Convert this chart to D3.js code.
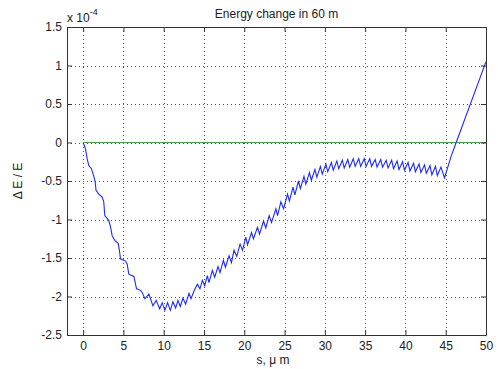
<!DOCTYPE html>
<html>
<head>
<meta charset="utf-8">
<script src="https://cdn.jsdelivr.net/npm/d3@7"></script>
<style>
  body { margin: 0; background: #fff; }
  svg { display: block; font-family: "Liberation Sans", Arial, sans-serif; }
</style>
</head>
<body>
<div id="chart"></div>
<script>
// s in micrometres, dE/E in units of 1e-4
const sValues = [
  0, 0.29, 0.5, 0.7, 1.03, 1.3, 1.5, 1.6, 1.94, 2.36, 2.56, 2.69, 3.18, 3.41, 3.6, 3.93, 4.35, 4.5, 4.64,
  5.26, 5.47, 5.67, 6.3, 6.63, 7.13, 7.34, 7.67, 8.16, 8.66, 9.07, 9.49, 9.82, 10.15, 10.48, 10.82,
  11.15, 11.48, 11.77, 12.06, 12.39, 12.72, 13.14, 13.39, 13.8, 14.18, 14.5, 14.8, 15.09, 15.42, 15.62,
  16.04, 16.33, 16.74, 16.99, 17.41, 17.66, 18.11, 18.41, 18.73, 19.07, 19.48, 19.78, 20.19, 20.4,
  20.9, 21.14, 21.64, 21.89, 22.39, 22.67, 23.09, 23.38, 23.92, 24.13, 24.54, 24.88, 25.37, 25.6,
  26.05, 26.28, 26.73, 26.96, 27.41, 27.64, 28.09, 28.32, 28.77, 29.0, 29.45, 29.68, 30.13, 30.36,
  30.81, 31.04, 31.49, 31.72, 32.17, 32.4, 32.85, 33.08, 33.53, 33.76, 34.21, 34.44, 34.89, 35.12,
  35.57, 35.8, 36.25, 36.48, 36.93, 37.16, 37.61, 37.84, 38.29, 38.52, 38.97, 39.2, 39.65, 39.88,
  40.33, 40.56, 41.01, 41.24, 41.69, 41.92, 42.37, 42.6, 43.05, 43.28, 43.73, 43.96, 44.41, 44.85,
  45.7, 46.3, 50
];
const dEValues = [
  0, -0.08, -0.21, -0.30, -0.34, -0.43, -0.51, -0.62, -0.67, -0.71, -0.77, -0.95, -1.01, -1.10, -1.21, -1.27, -1.31, -1.40, -1.51,
  -1.54, -1.58, -1.71, -1.74, -1.90, -1.92, -1.95, -2.03, -1.97, -2.12, -2.05, -2.16, -2.08, -2.18, -2.08, -2.18,
  -2.07, -2.15, -2.05, -2.13, -2.02, -2.10, -1.96, -2.03, -1.92, -1.84, -1.90, -1.79, -1.86, -1.73, -1.82,
  -1.66, -1.75, -1.61, -1.69, -1.53, -1.62, -1.47, -1.56, -1.40, -1.48, -1.32, -1.40, -1.23, -1.33,
  -1.17, -1.25, -1.10, -1.19, -1.02, -1.11, -0.95, -1.04, -0.86, -0.95, -0.77, -0.86, -0.67, -0.76,
  -0.58, -0.68, -0.50, -0.60, -0.44, -0.54, -0.39, -0.49, -0.35, -0.45, -0.31, -0.41, -0.28, -0.38,
  -0.26, -0.36, -0.24, -0.34, -0.23, -0.33, -0.22, -0.32, -0.21, -0.31, -0.21, -0.31, -0.21, -0.31,
  -0.21, -0.31, -0.22, -0.32, -0.22, -0.32, -0.23, -0.33, -0.23, -0.34, -0.24, -0.35, -0.25, -0.36,
  -0.26, -0.37, -0.27, -0.38, -0.28, -0.39, -0.29, -0.40, -0.30, -0.42, -0.31, -0.43, -0.32, -0.46,
  -0.17, 0.0, 1.05
];
const refS = [0, 50];
const refValues = [0, 0];
const xTicks = [0, 5, 10, 15, 20, 25, 30, 35, 40, 45, 50];
const yTicks = [-2.5, -2, -1.5, -1, -0.5, 0, 0.5, 1, 1.5];

const width = 498, height = 369;
const margin = { top: 27, right: 12, bottom: 34, left: 67 };

const svg = d3.select('#chart').append('svg')
  .attr('width', width)
  .attr('height', height);

const x = d3.scaleLinear().domain([-2, 50]).range([margin.left, width - margin.right]);
const y = d3.scaleLinear().domain([-2.5, 1.5]).range([height - margin.bottom, margin.top]);

// *** grid *** //
const grid = svg.append('g').attr('stroke', '#555').attr('stroke-width', 1)
  .attr('stroke-dasharray', '1,3');
grid.selectAll('line.gx').data(xTicks).join('line').classed('gx', true)
  .attr('x1', d => Math.round(x(d)) + 0.5).attr('x2', d => Math.round(x(d)) + 0.5)
  .attr('y1', margin.top).attr('y2', height - margin.bottom);
grid.selectAll('line.gy').data(yTicks).join('line').classed('gy', true)
  .attr('x1', margin.left).attr('x2', width - margin.right)
  .attr('y1', d => Math.round(y(d)) + 0.5).attr('y2', d => Math.round(y(d)) + 0.5);

// *** data lines *** //
const line = d3.line().x(d => x(d[0])).y(d => y(d[1]));

svg.append('path')
  .datum(d3.zip(refS, refValues))
  .attr('d', line)
  .attr('fill', 'none')
  .attr('stroke', '#4a9f4a')
  .attr('stroke-width', 1.2);

svg.append('path')
  .datum(d3.zip(sValues, dEValues))
  .attr('d', line)
  .attr('fill', 'none')
  .attr('stroke', '#1f2cf0')
  .attr('stroke-width', 1.1);

// *** axes (box with inward ticks) *** //
const tick = 5;
const axisColor = '#333';
const fmt = d => String(d); // matlab style: 1, 0.5, -0.5 with plain hyphen
const axBottom = svg.append('g').attr('transform', `translate(0,${height - margin.bottom})`)
  .call(d3.axisBottom(x).tickValues(xTicks).tickFormat(fmt).tickSizeInner(-tick).tickSizeOuter(0).tickPadding(6));
const axTop = svg.append('g').attr('transform', `translate(0,${margin.top})`)
  .call(d3.axisTop(x).tickValues(xTicks).tickSizeInner(-tick).tickSizeOuter(0).tickFormat(''));
const axLeft = svg.append('g').attr('transform', `translate(${margin.left},0)`)
  .call(d3.axisLeft(y).tickValues(yTicks).tickFormat(fmt).tickSizeInner(-tick).tickSizeOuter(0).tickPadding(5));
const axRight = svg.append('g').attr('transform', `translate(${width - margin.right},0)`)
  .call(d3.axisRight(y).tickValues(yTicks).tickSizeInner(-tick).tickSizeOuter(0).tickFormat(''));

[axBottom, axTop, axLeft, axRight].forEach(g => {
  g.select('.domain').attr('stroke', axisColor);
  g.selectAll('.tick line').attr('stroke', axisColor);
  g.selectAll('text').attr('fill', '#222').style('font-size', '12px')
    .style('font-family', '"Liberation Sans", Arial, sans-serif');
});

// *** texts *** //
svg.append('text')
  .attr('x', (margin.left + width - margin.right) / 2)
  .attr('y', 18)
  .attr('text-anchor', 'middle')
  .attr('fill', '#222')
  .style('font-size', '12px')
  .text('Energy change in 60 m');

const exp = svg.append('text')
  .attr('x', margin.left)
  .attr('y', 22)
  .attr('fill', '#222')
  .style('font-size', '12px');
exp.append('tspan').text('x 10');
exp.append('tspan').attr('dy', -7).style('font-size', '9px').text('-4');

svg.append('text')
  .attr('x', 273)
  .attr('y', 364)
  .attr('text-anchor', 'middle')
  .attr('fill', '#222')
  .style('font-size', '12px')
  .text('s, \u03bc m');

svg.append('text')
  .attr('transform', `translate(22,${(margin.top + height - margin.bottom) / 2}) rotate(-90)`)
  .attr('text-anchor', 'middle')
  .attr('fill', '#222')
  .style('font-size', '12px')
  .text('\u0394 E / E');
</script>
</body>
</html>
